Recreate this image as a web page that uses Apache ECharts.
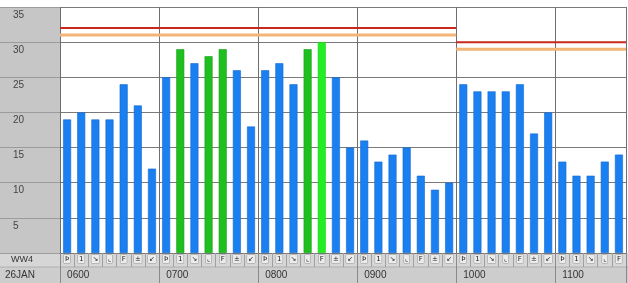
<!DOCTYPE html>
<html><head><meta charset="utf-8">
<script src="https://cdn.jsdelivr.net/npm/echarts@6/dist/echarts.min.js"></script>
<style>html,body{margin:0;padding:0;background:#fff}#c{width:628px;height:283px}</style>
</head><body><div id="c"></div>
<script>
// ---- data ----
const hours = ['0600','0700','0800','0900','1000','1100'];
const slotGlyphs = ['Þ','1','↘','⌞','F','±','↙'];
const values = [19,20,19,19,24,21,12, 25,29,27,28,29,26,18, 26,27,24,29,30,25,15, 16,13,14,15,11,9,10, 24,23,23,23,24,17,20, 13,11,11,13,14];
// status: n = normal (blue), g = green, G = bright green
const status = ['n','n','n','n','n','n','n', 'n','g','n','g','g','n','n', 'n','n','n','g','G','n','n', 'n','n','n','n','n','n','n', 'n','n','n','n','n','n','n', 'n','n','n','n','n'];
const yTicks = [0,5,10,15,20,25,30,35];
const redLimit = [{from:0,to:28,value:32},{from:28,to:40,value:30}];
const orangeLimit = [{from:0,to:28,value:31},{from:28,to:40,value:29}];
const rowLabels = ['WW4','26JAN'];

// ---- build ----
const categories = values.map((v,i)=> hours[Math.floor(i/7)] + '-' + (i%7));
const glyphs = values.map((v,i)=> slotGlyphs[i%7]);
const colorMap = {n:'#1a7ff0', g:'#1fbf1f', G:'#22ee22'};
const borderMap = {n:'#1469cc', g:'#18a018', G:'#1ccc1c'};
const barData = values.map((v,i)=>({value:v, itemStyle:{color:colorMap[status[i]], borderColor:borderMap[status[i]], borderWidth:0.6}}));
function segSeries(segs, color, width, name){
  const data=[];
  segs.forEach((s,k)=>{ if(k>0) data.push([s.from,null]); data.push([s.from,s.value]); data.push([s.to,s.value]); });
  return {type:'line', name, xAxisIndex:2, yAxisIndex:0, data, showSymbol:false, connectNulls:false,
    lineStyle:{color, width}, silent:true, animation:false, z:5};
}

const chart = echarts.init(document.getElementById('c'), null, {renderer:'canvas'});
chart.setOption({
  animation:false,
  backgroundColor:'#ffffff',
  grid:[
    {left:60, right:2, top:7, bottom:30, show:true, backgroundColor:'#ffffff', borderWidth:0},
    {left:0, width:60, top:7, bottom:30, show:true, backgroundColor:'#c6c6c6', borderWidth:0}
  ],
  xAxis:[
    {type:'category', gridIndex:0, data:categories, boundaryGap:true,
      axisLine:{show:true, lineStyle:{color:'#777', width:1}},
      axisTick:{show:true, interval:0, length:14, lineStyle:{color:'#a0a0a0'}},
      axisLabel:{interval:0, margin:2, formatter:(v,i)=>glyphs[i],
        fontSize:7, color:'#222', fontFamily:'DejaVu Sans',
        backgroundColor:'#ececec', borderColor:'#9a9a9a', borderWidth:0.5, padding:[1,1,0,1]},
      splitLine:{show:true, interval:(i)=>i%7===0, lineStyle:{color:'#6e6e6e', width:1}}
    },
    {type:'category', gridIndex:0, data:categories, boundaryGap:true, position:'bottom',
      axisLine:{show:false},
      axisTick:{show:true, interval:(i)=>i%7===0, length:30, lineStyle:{color:'#8a8a8a'}},
      axisLabel:{interval:(i)=>i%7===0, margin:17, align:'left', formatter:(v)=>v.split('-')[0],
        fontSize:10, color:'#333', fontFamily:'Liberation Sans'},
      splitLine:{show:false}
    },
    {type:'value', gridIndex:0, min:0, max:40, show:false},
    {type:'value', gridIndex:1, min:0, max:1, show:false}
  ],
  yAxis:[
    {type:'value', gridIndex:0, min:0, max:35, interval:5,
      axisLine:{show:false}, axisTick:{show:false}, axisLabel:{show:false},
      splitLine:{show:true, lineStyle:{color:'#7a7a7a', width:1}}},
    {type:'value', gridIndex:1, min:0, max:35, interval:5,
      axisLine:{show:false}, axisTick:{show:false},
      axisLabel:{inside:true, margin:13, verticalAlign:'top', padding:[3,0,0,0],
        formatter:(v)=> (v===0 || yTicks.indexOf(v)<0) ? '' : String(v),
        fontSize:10, color:'#444', fontFamily:'Liberation Sans'},
      splitLine:{show:true, lineStyle:{color:'#9c9c9c', width:1}}}
  ],
  graphic:[
    {type:'rect', z:-10, shape:{x:0, y:253, width:628, height:14}, style:{fill:'#d6d6d6'}},
    {type:'rect', z:-10, shape:{x:0, y:267, width:628, height:16}, style:{fill:'#cdcdcd'}},
    {type:'line', z:-5, shape:{x1:0, y1:267, x2:628, y2:267}, style:{stroke:'#b0b0b0', lineWidth:1}},
    {type:'text', z:10, style:{text:rowLabels[0], x:22, y:260, textAlign:'center', textVerticalAlign:'middle', fontSize:9, fill:'#333', fontFamily:'Liberation Sans'}},
    {type:'text', z:10, style:{text:rowLabels[1], x:5, y:275, textAlign:'left', textVerticalAlign:'middle', fontSize:10, fill:'#333', fontFamily:'Liberation Sans'}}
  ],
  series:[
    {type:'bar', xAxisIndex:0, yAxisIndex:0, data:barData, barWidth:8, z:3},
    segSeries(orangeLimit, '#f2b477', 3, 'orange'),
    segSeries(redLimit, '#c8281e', 2, 'red')
  ]
});
</script></body></html>
